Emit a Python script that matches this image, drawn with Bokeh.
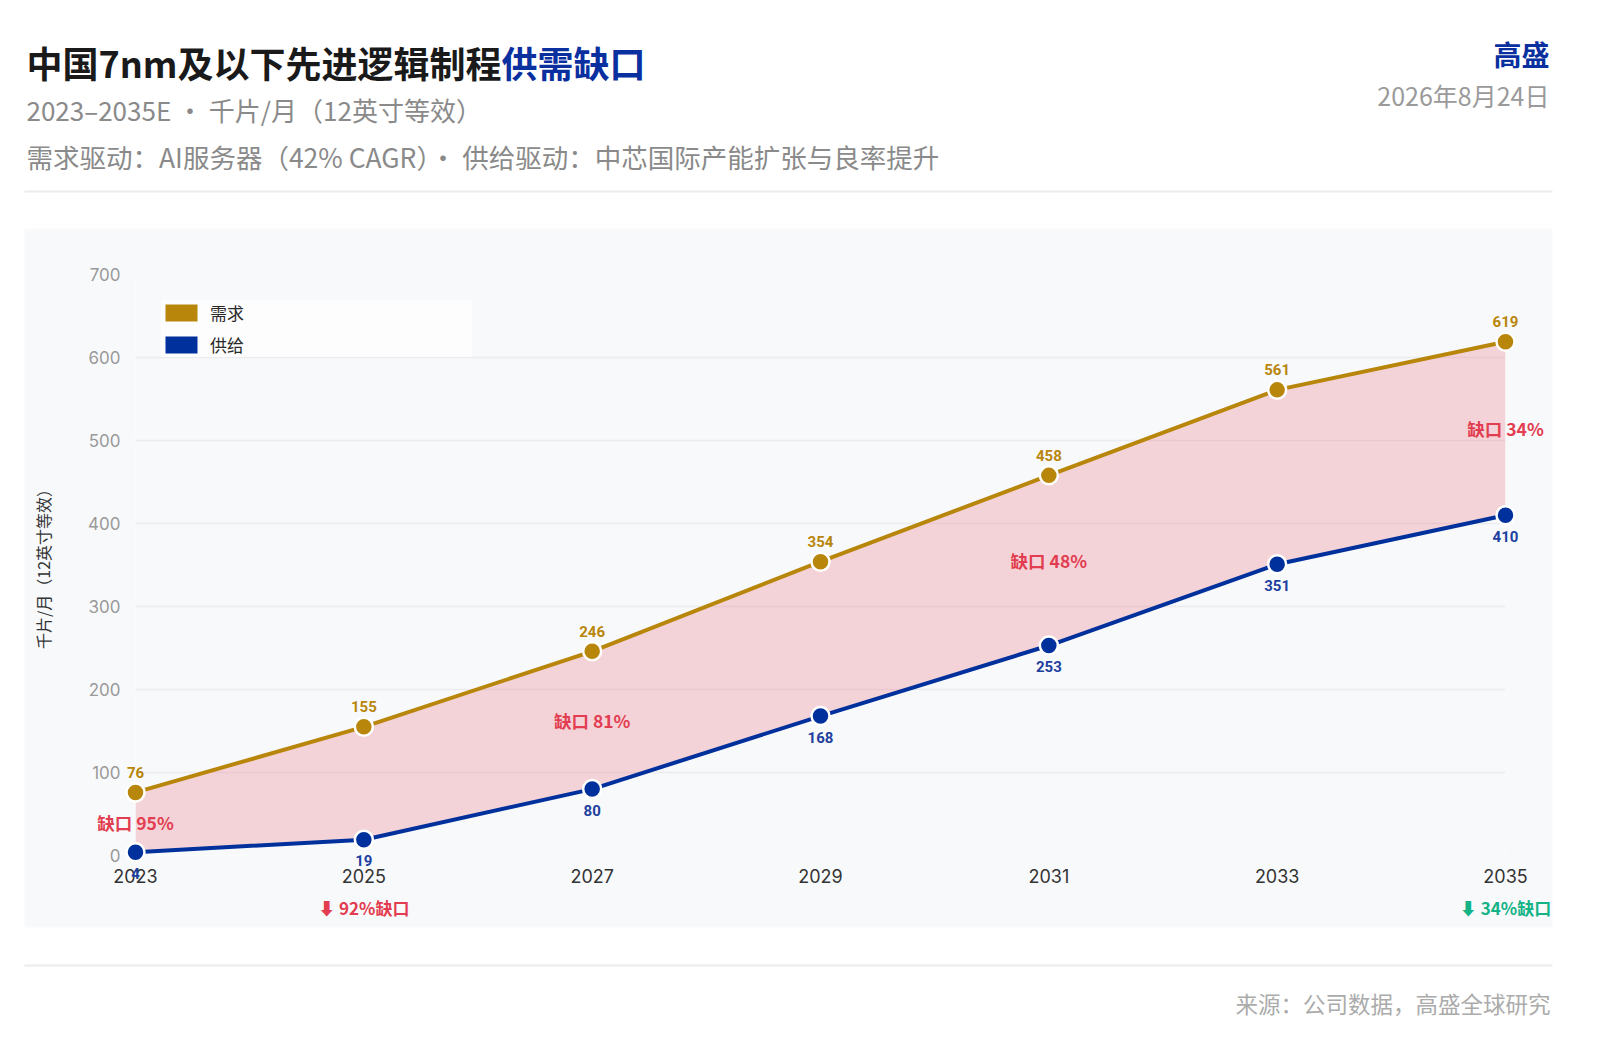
import numpy as np
from bokeh.plotting import figure
from bokeh.models import Range1d, FixedTicker, Legend, LegendItem
from bokeh.core.properties import value
from bokeh.embed import file_html
from bokeh.resources import INLINE

# ---------------- data ----------------
years = [2023, 2025, 2027, 2029, 2031, 2033, 2035]
demand = [76, 155, 246, 354, 458, 561, 619]
supply = [4, 19, 80, 168, 253, 351, 410]
y_ticks = [0, 100, 200, 300, 400, 500, 600, 700]
series_names = ["需求", "供给"]
gap_years = [2023, 2027, 2031, 2035]
gap_labels = ["缺口 95%", "缺口 81%", "缺口 48%", "缺口 34%"]
note_years = [2025, 2035]
note_labels = ["⬇ 92%缺口", "⬇ 34%缺口"]

title_main = "中国7nm及以下先进逻辑制程"
title_accent = "供需缺口"
subtitle = "2023–2035E · 千片/月（12英寸等效）"
drivers = "需求驱动：AI服务器（42% CAGR）· 供给驱动：中芯国际产能扩张与良率提升"
brand = "高盛"
date_text = "2026年8月24日"
source_text = "来源：公司数据，高盛全球研究"
y_label = "千片/月（12英寸等效）"

# ---------------- styles / layout ----------------
CJK = "Noto Sans CJK SC"
NUM = "Inter"
VAL = "Roboto"
GOLD = "#b8860b"
NAVY = "#00309c"
NAVY_TXT = "#1d3f9e"
RED = "#e23d50"
GREEN = "#13b386"
CARD = "#f8f9fb"
note_colors = [RED, GREEN]

W, H = 1600, 1056
FL, FR, FT, FB = 135, 1505, 274, 855          # plot frame (page pixels)
CL, CR, CT, CB, RAD = 24, 1552, 228, 927, 14  # chart card (page pixels)

p = figure(width=W, height=H,
           x_range=Range1d(years[0], years[-1]), y_range=Range1d(y_ticks[0], y_ticks[-1]),
           toolbar_location=None, output_backend="svg",
           min_border_left=FL, min_border_right=W - FR, min_border_top=FT, min_border_bottom=H - FB,
           background_fill_color=CARD, border_fill_color=CARD, outline_line_color=None)
# pixel coordinate system for page decorations
p.extra_x_ranges = {"px": Range1d(FL, FR)}
p.extra_y_ranges = {"py": Range1d(FB, FT)}

p.xaxis.ticker = FixedTicker(ticks=years)
p.xaxis.axis_line_color = None
p.xaxis.major_tick_line_color = None
p.xaxis.minor_tick_line_color = None
p.xaxis.major_tick_out = 0
p.xaxis.major_tick_in = 0
p.xaxis.major_label_text_font = NUM
p.xaxis.major_label_text_font_size = "18px"
p.xaxis.major_label_text_color = "#333333"
p.xaxis.major_label_standoff = 13

p.yaxis.ticker = FixedTicker(ticks=y_ticks)
p.yaxis.axis_line_color = None
p.yaxis.major_tick_line_color = None
p.yaxis.minor_tick_line_color = None
p.yaxis.major_tick_out = 0
p.yaxis.major_tick_in = 0
p.yaxis.major_label_text_font = NUM
p.yaxis.major_label_text_font_size = "17px"
p.yaxis.major_label_text_color = "#999999"
p.yaxis.major_label_standoff = 15
p.yaxis.axis_label = y_label
p.yaxis.axis_label_text_font = CJK
p.yaxis.axis_label_text_font_size = "16px"
p.yaxis.axis_label_text_font_style = "normal"
p.yaxis.axis_label_text_color = "#333333"
p.yaxis.axis_label_standoff = 30

p.xgrid.visible = False
p.ygrid.ticker = FixedTicker(ticks=y_ticks)
p.ygrid.grid_line_color = "#eaecef"
p.ygrid.grid_line_width = 1.5

# ---------------- series ----------------
p.varea(x=years, y1=supply, y2=demand, fill_color="#e63246", fill_alpha=0.19)
p.line(years, demand, line_color=GOLD, line_width=4)
p.line(years, supply, line_color=NAVY, line_width=4)
p.scatter(years, demand, size=18, fill_color=GOLD, line_color="white", line_width=2.5, level="overlay")
p.scatter(years, supply, size=18, fill_color=NAVY, line_color="white", line_width=2.5, level="overlay")


def txt(x, y, t, size, color, font=CJK, bold=False, align="center", dy=0, **kw):
    kw.setdefault("level", "overlay")
    p.text(x=x, y=y, text=t, text_font=value(font), text_font_size=value(size),
           text_font_style="bold" if bold else "normal", text_color=color,
           text_align=align, text_baseline="middle", y_offset=dy, **kw)


txt(years, demand, [str(v) for v in demand], "15px", GOLD, font=VAL, bold=True, dy=-20)
txt(years, supply, [str(v) for v in supply], "15px", NAVY_TXT, font=VAL, bold=True, dy=21)

idx = {y: i for i, y in enumerate(years)}
gap_mid = [(demand[idx[y]] + supply[idx[y]]) / 2 for y in gap_years]
txt(gap_years, gap_mid, gap_labels, "17.5px", RED, bold=True)

for yr, t_, col in zip(note_years, note_labels, note_colors):
    txt([yr], [907], [t_], "17px", col, bold=True, y_range_name="py")

# legend swatches (zero-size rects anchored at the first data point)
sw_d = p.rect(x=years[:1], y=demand[:1], width=0, height=0, fill_color=GOLD, line_color=None)
sw_s = p.rect(x=years[:1], y=supply[:1], width=0, height=0, fill_color=NAVY, line_color=None)
legend = Legend(items=[LegendItem(label=series_names[0], renderers=[sw_d]),
                       LegendItem(label=series_names[1], renderers=[sw_s])],
                location="top_left", margin=26, padding=15, spacing=7,
                glyph_width=40, glyph_height=21, label_standoff=9, label_width=262,
                label_text_font=CJK, label_text_font_size="17px", label_text_color="#2a2a2a",
                background_fill_color="#fdfdfe", background_fill_alpha=1.0,
                border_line_color=None)
p.add_layout(legend)

# ---------------- page outside the card (white) ----------------
PX = dict(x_range_name="px", y_range_name="py", level="overlay")
p.quad(left=[0, 0, 0, CR], right=[W, W, CL, W], top=[0, CB, CT, CT], bottom=[CT, H, CB, CB],
       fill_color="white", line_color=None, **PX)
tt = np.linspace(0, np.pi / 2, 16)
xs, ys = [], []
for (cx0, cy0, sx, sy) in [(CL, CT, 1, 1), (CR, CT, -1, 1), (CL, CB, 1, -1), (CR, CB, -1, -1)]:
    ccx, ccy = cx0 + sx * RAD, cy0 + sy * RAD
    xs.append([cx0] + list(ccx - sx * RAD * np.cos(tt)))
    ys.append([cy0] + list(ccy - sy * RAD * np.sin(tt)))
p.patches(xs, ys, fill_color="white", line_color=None, **PX)

# ---------------- header ----------------
txt([26], [61], [title_main], "36px", "#1a1a1a", bold=True, align="left", **PX)
txt([501], [61], [title_accent], "36px", "#0a2f9f", bold=True, align="left", **PX)
txt([26], [109], [subtitle], "26px", "#8a8a8a", align="left", **PX)
txt([26], [156], [drivers], "26.5px", "#8a8a8a", align="left", **PX)
txt([1549], [53], [brand], "28px", "#0a2f9f", bold=True, align="right", **PX)
txt([1549], [94], [date_text], "25px", "#9a9a9a", align="right", **PX)
p.segment(x0=[CL, CL], x1=[CR, CR], y0=[191, 965], y1=[191, 965], line_color="#ececec", line_width=2, **PX)

# ---------------- footer ----------------
txt([1550], [1002], [source_text], "22.5px", "#ababab", align="right", **PX)

open("out.html", "w").write(file_html(p, INLINE))
